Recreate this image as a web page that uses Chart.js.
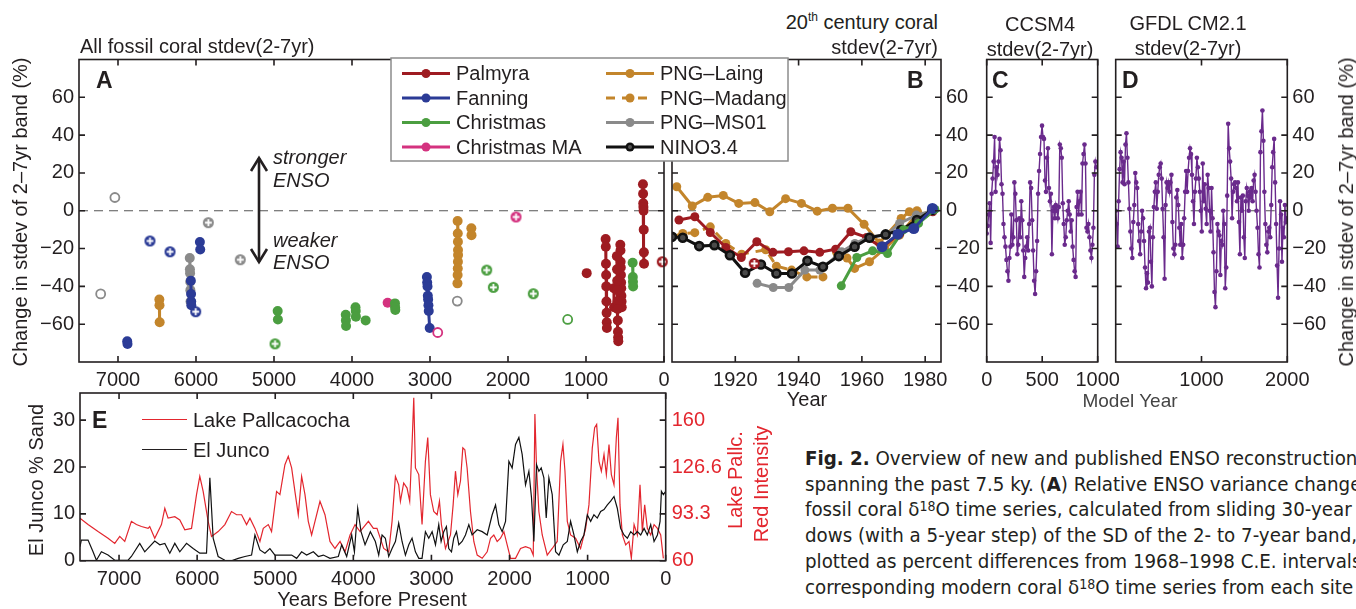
<!DOCTYPE html>
<html>
<head>
<meta charset="utf-8">
<script src="https://cdn.jsdelivr.net/npm/chart.js@4.4.1/dist/chart.umd.min.js"></script>
<style>
  html, body { margin:0; padding:0; background:#fff; }
  body { width:1356px; height:609px; position:relative; overflow:hidden;
         font-family:"Liberation Sans", Arial, Helvetica, sans-serif; color:#231f20; }
  canvas { position:absolute; }
  .t { position:absolute; white-space:nowrap; line-height:1; font-size:20px; z-index:5; }
  .c { transform:translate(-50%,-50%); }
  .r { transform:translate(-100%,-50%); }
  .l { transform:translate(0,-50%); }
  .v { transform:translate(-50%,-50%) rotate(-90deg); }
  .p { font-weight:bold; font-size:23px; }
  .it { font-style:italic; }
  sup { font-size:12px; position:relative; top:-1px; vertical-align:top; }
  .cap { position:absolute; left:805px; top:446px; z-index:5; white-space:nowrap;
         font-family:"Liberation Sans Narrow","DejaVu Sans Condensed",sans-serif;
         font-size:20.3px; line-height:25.7px; }
  .cap sup { font-size:14px; top:-3px; }
  .leg { position:absolute; height:0; border-top:1.5px solid; z-index:5; }
</style>
</head>
<body>

<canvas id="cB" width="390" height="350" style="left:600px;top:50px"></canvas>
<canvas id="cC" width="190" height="350" style="left:940px;top:50px"></canvas>
<canvas id="cD" width="256" height="350" style="left:1100px;top:50px"></canvas>
<canvas id="cE" width="800" height="229" style="left:0;top:380px"></canvas>
<canvas id="cA" width="800" height="350" style="left:0;top:50px"></canvas>

<!-- titles and axis labels -->
<div class="t l" style="left:80px;top:46px">All fossil coral stdev(2-7yr)</div>
<div class="t r" style="left:938px;top:22px">20<sup>th</sup> century coral</div>
<div class="t r" style="left:938px;top:47px">stdev(2-7yr)</div>
<div class="t c" style="left:1040px;top:24px">CCSM4</div>
<div class="t c" style="left:1040px;top:49px">stdev(2-7yr)</div>
<div class="t c" style="left:1188px;top:23px">GFDL CM2.1</div>
<div class="t c" style="left:1188px;top:48px">stdev(2-7yr)</div>
<div class="t v" style="left:20px;top:212px">Change in stdev of 2–7yr band (%)</div>
<div class="t v" style="left:1346px;top:212px">Change in stdev of 2–7yr band (%)</div>
<div class="t c" style="left:807px;top:399px">Year</div>
<div class="t c" style="left:1130px;top:400px;color:#444;font-size:19px">Model Year</div>

<div class="t p l" style="left:96px;top:80px">A</div>
<div class="t p l" style="left:907px;top:80px">B</div>
<div class="t p l" style="left:992px;top:80px">C</div>
<div class="t p l" style="left:1122px;top:80px">D</div>
<div class="t p l" style="left:92px;top:420px">E</div>

<!-- stronger / weaker arrow -->
<svg style="position:absolute;left:0;top:0;z-index:4" width="400" height="300">
  <g stroke="#231f20" stroke-width="2.6" fill="none">
    <line x1="259" y1="158" x2="259" y2="262"/>
    <polyline points="251,171 259,158 267,171"/>
    <polyline points="251,249 259,262 267,249"/>
  </g>
</svg>
<div class="t l it" style="left:273px;top:157px">stronger</div>
<div class="t l it" style="left:273px;top:180px">ENSO</div>
<div class="t l it" style="left:273px;top:240px">weaker</div>
<div class="t l it" style="left:273px;top:262px">ENSO</div>

<!-- panel E labels -->
<div class="leg" style="left:142px;top:419px;width:45px;border-color:#e3262e"></div>
<div class="t l" style="left:193px;top:420px">Lake Pallcacocha</div>
<div class="leg" style="left:142px;top:449px;width:45px;border-color:#231f20"></div>
<div class="t l" style="left:193px;top:450px">El Junco</div>
<div class="t v" style="left:36px;top:480px">El Junco % Sand</div>
<div class="t v" style="left:735px;top:480px;color:#e3262e">Lake Pallc.</div>
<div class="t v" style="left:761px;top:484px;color:#e3262e">Red Intensity</div>
<div class="t c" style="left:372px;top:599px">Years Before Present</div>

<div class="cap">
  <div><b>Fig. 2.</b> Overview of new and published ENSO reconstructions</div>
  <div>spanning the past 7.5 ky. (<b>A</b>) Relative ENSO variance changes in</div>
  <div>fossil coral δ<sup>18</sup>O time series, calculated from sliding 30-year win-</div>
  <div>dows (with a 5-year step) of the SD of the 2- to 7-year band,</div>
  <div>plotted as percent differences from 1968–1998 C.E. intervals of</div>
  <div>corresponding modern coral δ<sup>18</sup>O time series from each site</div>
</div>

<script>
// ---------- colours ----------
const cPalmyra = '#9e1b21';
const cFanning = '#2b3b96';
const cChristmas = '#4b9e40';
const cChristmasMA = '#d4327f';
const cLaing = '#c3852b';
const cMS01 = '#8a8a8a';
const cNino = '#111111';
const cModel = '#6a2a8c';
const cLake = '#e3262e';

// ---------- panel A: fossil corals, [years BP, % change], one sub-array per record ----------
const palmyraA = [
  [[991,-33]],
  [[748,-15],[746,-19],[744,-28],[742,-34],[740,-40],[738,-48],[736,-54],[734,-59],[732,-62]],
  [[604,-24],[602,-31],[600,-37],[598,-42],[596,-48],[594,-52],[592,-58],[590,-64],[588,-67],[586,-69]],
  [[560,-18],[558,-21],[556,-27],[554,-30],[552,-34],[550,-38],[548,-41],[546,-45],[544,-48],[542,-51]],
  [[642,-41],[640,-51]],
  [[270,14],[268,9],[266,4],[264,2],[262,0],[260,-10],[258,-22],[256,-28]]
];
const palmyraCross = [[22,-27]];

const fanningA = [
  [[6882,-69],[6878,-70.5]],
  [[6066,-37],[6063,-44],[6061,-48],[6060,-50]],
  [[5950,-16.5],[5946,-20.5]],
  [[3040,-35],[3036,-38],[3032,-40],[3028,-45],[3024,-47],[3020,-50],[3016,-53],[3004,-62]]
];
const fanningCross = [[6590,-16],[6333,-21.7],[6004,-53.4]];

const christmasA = [
  [[4953,-53],[4950,-57.5]],
  [[4080,-55],[4078,-58],[4076,-61]],
  [[3955,-51],[3952,-53],[3950,-56]],
  [[3825,-58]],
  [[3449,-49],[3447,-51],[3445,-52.5]],
  [[402,-27.5],[400,-35],[398,-37.6],[396,-40]]
];
const christmasCross = [[4987,-70.4],[2273,-31.4],[2188,-40.5],[1676,-43.9]];
const christmasOpen = [[1235,-57.5]];

const christmasMAA = [[[3543,-48.7]]];
const christmasMAOpen = [[2901,-64.4]];
const christmasMACross = [[1897,-3.3]];

const laingA = [
  [[6470,-47],[6468,-50],[6466,-59]],
  [[2646,-5.4],[2644,-12],[2642,-16.4],[2641,-20.8],[2640,-23.4],[2642,-27],[2644,-30.5],[2646,-34],[2648,-38.4]],
  [[2470,-9.3],[2468,-12.9]]
];

const ms01A = [
  [[6080,-25],[6078,-31],[6076,-33],[6074,-37.6],[6072,-42],[6070,-48]]
];
const ms01Open = [[7040,7],[7222,-44],[2650,-47.8]];
const ms01Cross = [[5842,-6.3],[5432,-25.9]];

// legend
const siteNames = ['Palmyra','Fanning','Christmas','Christmas MA','PNG\u2013Laing','PNG\u2013Madang','PNG\u2013MS01','NINO3.4'];
const siteColors = [cPalmyra, cFanning, cChristmas, cChristmasMA, cLaing, cLaing, cMS01, cNino];

// ---------- panel B: 20th century, [year CE, % change] ----------
const laingB = [[1901.5,12.7],[1906.4,2.5],[1911.3,7.1],[1916.2,8.1],[1921.1,3.9],[1926.2,4.3],[1930.9,-0.5],[1935.9,6.4],[1940.9,3.9],[1945.9,-0.2],[1950.7,1.3],[1955.6,1.3],[1960.7,-7.2],[1965.5,-17],[1972.4,-4.1],[1975,-0.5],[1977.4,0]];
const laingB2 = [[1952,-22],[1955.3,-25],[1957.7,-30.5],[1962.4,-27],[1967.2,-20],[1971.9,-12.9],[1977.7,-1]];
const madangB = [[1900,-13.8],[1903.4,-12],[1907.2,-11.6],[1912.1,-8.5],[1917,-17.3],[1922,-23],[1929.6,-20.6],[1933,-29.3],[1937.8,-31.4],[1942.6,-35],[1947.7,-35]];
const palmyraB = [[1902.2,-4.9],[1907.2,-3.2],[1912.1,-11.5],[1917,-19.4],[1921.9,-24.7],[1926.8,-16.4],[1931.9,-22],[1936.8,-21.7],[1941.7,-21.2],[1946.7,-22],[1951.7,-20.3],[1956.5,-11.1],[1961.5,-14.1],[1966.3,-19.4],[1972,-12],[1977,-7],[1982.4,-0.5]];
const palmyraBCross = [[1926,-27.9]];
const ms01B = [[1926.9,-38.4],[1932,-40.6],[1936.9,-40.6],[1942,-31.4],[1946.7,-31.4],[1953.6,-21.7],[1957.8,-17.3],[1962.4,-13.8],[1967.7,-12.9],[1971.9,-6.7],[1977.2,-2.3],[1982.4,0]];
const ninoB = [[1900,-13.8],[1903.4,-14.3],[1908.6,-18.7],[1913.4,-18.2],[1918.3,-23.5],[1923.1,-32.8],[1928.1,-28.4],[1933,-33.2],[1937.9,-33.2],[1942.8,-26.5],[1947.7,-29.6],[1952.7,-24],[1957.7,-19],[1962.4,-14.3],[1967.5,-12.5],[1972.4,-10.2],[1977.4,-4.9],[1982.2,0.4]];
const christmasB = [[1953.5,-39.7],[1958.4,-24.7],[1963.4,-21.2],[1968.1,-22.6],[1973.2,-10],[1977.9,-6.7],[1983.1,0.7]];
const fanningB = [[1966.4,-19],[1971.4,-12.4],[1976.4,-9.4],[1982.3,1.2]];

// ---------- panels C, D: model stdev, % change ----------
const ccsmStep = 8.9;   // model years between points
const ccsmVals = [-12,-8,-2,4,-17,9,17,26,39,10,23,19,26,38,32,14,9,-7,-14,-19,-26,-32,-37,-25,-19,-2,-18,-14,15,9,-5,-23,-18,-4,-14,5,-5,-21,-35,-25,-19,-14,-21,-7,15,12,-5,-21,-37,-44,-32,-16,9,21,30,39,45,39,38,16,10,28,33,12,5,9,-23,0,2,-4,3,0,-4,2,35,33,28,4,-7,-18,-14,-5,0,5,-2,-11,-5,-19,-26,-32,-35,2,10,-2,5,10,-2,25,30,35,25,-9,-11,-7,-14,-21,-25,-18,-9,19,26,23];
const gfdlStep = 11.4;
const gfdlVals = [0,-7,-19,5,22,31,28,15,26,14,35,41,28,15,1,-11,-20,-25,-6,3,20,15,12,-7,-16,-23,-11,0,-4,-16,-30,-41,-33,-38,-11,-9,-27,-40,-14,2,10,15,1,10,19,23,25,17,1,-14,-36,3,15,12,15,10,15,19,-6,-20,-23,-18,7,11,3,-9,-18,-7,-25,-18,-4,10,21,10,21,28,33,30,19,5,-7,10,17,28,23,17,10,0,-11,25,5,14,1,-7,19,12,0,-11,12,-4,-22,-43,-51,-32,-7,-11,-13,-34,-16,-18,0,-7,-41,-30,8,46,33,26,17,-4,10,14,15,12,5,15,-6,-23,7,0,8,-14,-25,5,12,8,0,10,7,12,5,16,19,10,0,-9,-23,-30,31,42,53,37,10,-7,-18,-22,-11,-9,-14,3,23,31,38,15,-7,-29,-46,-20,5,-2,-27,-9,-14,3,-6,-4];

// ---------- panel E ----------
const lakeYears = [7500,7397,7269,7141,7055,6991,6927,6842,6778,6713,6628,6607,6543,6457,6414,6372,6286,6222,6158,6072,6008,5966,5923,5859,5816,5731,5645,5560,5495,5431,5367,5324,5260,5196,5153,5089,5047,4983,4940,4876,4833,4790,4748,4705,4662,4619,4577,4534,4491,4427,4363,4299,4235,4170,4106,4042,3978,3914,3807,3743,
  3697,3611,3547,3504,3461,3419,3397,3355,3312,3278,3248,3226,3205,3162,3120,3077,3047,3013,2970,2927,2897,2872,2820,2756,2722,2692,2662,2628,2598,2572,2543,2500,2457,2414,2350,2286,2243,2201,2158,2115,2072,2030,1987,1923,1859,1795,1731,1696,1675,1654,1624,1581,1517,1453,1389,1346,1316,1290,1260,1218,1154,1090,1025,983,940,910,884,854,824,790,760,726,696,662,632,611,585,555,512,470,440,405,363,329,299,269,235,192,149,106,64,30];
const lakeRed = [90.3,85.7,80.7,76,72.3,77.3,73.7,88,85.7,84.3,83,84.3,76,85.7,97.3,90.3,91.3,89,82,83,107,120,109.3,88,77.3,80.7,85.7,95,92.7,92.7,85.7,90.3,83,73.7,83,85.7,80.7,109.3,107,128.3,134.3,126,109.3,92.7,120,107,88,78.3,88,102.3,92.7,73.7,68.7,73.7,66.3,78.3,85.7,80.7,88,83,
  83,68.7,66.3,88,120,114,102.3,115.3,111.7,102.3,142.7,176,126,121.3,85.7,130.7,147.7,107,95,92.7,102.3,85.7,68.7,78.3,99.7,123.7,107,116.7,140.3,139,126,95,73.7,64,61.7,66.3,76,78.3,73.7,76,80.7,71.3,61.7,61.7,68.7,70,68.7,64,164.3,126,95,78.3,64,68.7,73.7,130.7,142.7,123.7,88,78.3,76,68.7,83,99.7,140.3,154.7,157,130.7,123.7,135.7,121.3,142.7,121.3,114,147.7,161.7,99.7,78.3,71.3,73.7,61.7,85.7,78.3,114,80.7,99.7,83,78.3,85.7,83,78.3,61.7];

const juncoYears = [7500,7483,7397,7333,7290,7226,7141,7055,6884,6842,6735,6671,6543,6478,6414,6350,6286,6222,6136,6051,5966,5880,5837,5795,5731,5645,5560,5474,5388,5303,5260,5196,5132,5068,5004,4918,4790,4726,4662,4598,4512,4448,4384,4299,4192,4149,4085,4021,3986,3944,3901,3850,
  3782,3718,3675,3632,3590,3547,3504,3461,3419,3376,3333,3290,3248,3205,3162,3120,3077,3034,2991,2948,2906,2876,2842,2808,2778,2743,2714,2679,2649,2607,2564,2521,2479,2414,2350,2286,2222,2179,2137,2094,2051,2008,1966,1923,1880,1838,1795,1752,1718,1688,1654,1624,1594,1560,1530,1496,1453,1410,1367,1312,1260,1218,1175,1132,1090,1047,1004,961,919,876,833,790,747,705,662,620,577,534,491,448,405,363,320,277,235,192,149,106,72,55,30,0];
const juncoSand = [3,4.4,4.4,1.9,0.1,1.9,1.2,0.1,0.1,0.9,3.7,1.9,4.2,3.4,3.7,1.6,3.7,1.9,3.7,2.6,1.6,1.6,17.7,4.8,0.9,0.1,0,0.5,0.9,1.2,5.5,2.3,1.6,2.6,1.2,1.2,1.2,0.5,1.9,1.2,1.9,0.9,1.2,0.5,0.9,3.4,0.9,5.5,1.9,11.2,6.2,3.4,
  6.2,4.1,1.2,5.5,4.8,0.9,2.6,4.1,8,4.1,1.2,3.4,4.8,1.9,0.5,0.5,6.2,4.8,6.2,3.4,7.7,4.1,6.2,7.3,2.6,1.9,4.8,6.2,3.4,4.1,5.5,7.7,5.5,6.6,6.2,5.5,9.8,11.9,7.7,6.2,8.4,21.2,19.8,24.8,26.3,22.7,16.2,19.1,13.4,4.1,20.5,19.1,19.8,17.7,9.1,17.7,14.1,1.9,1.2,3.4,4.1,8.4,5.5,1.9,4.1,5.5,9.8,8.4,9.8,9.1,10.5,10.9,11.9,12.7,13.7,11.2,6.9,5.5,4.8,6.2,5.5,6.2,5.5,6.9,5.5,7.7,4.1,5.5,8.4,14.8,14.1,14.8];

// ---------- tick values ----------
const pctTicks = [-60,-40,-20,0,20,40,60];
const bpTicks = [0,1000,2000,3000,4000,5000,6000,7000];
const ceTicks = [1920,1940,1960,1980];
const ccsmTicks = [0,500,1000];
const gfdlTicks = [1000,2000];
const sandTicks = [0,10,20,30];
const redTicks = [60,93.3,126.6,160];

// ---------- helpers ----------
const ink = '#231f20';
Chart.defaults.font.family = '"Liberation Sans", Arial, sans-serif';
Chart.defaults.font.size = 20;
Chart.defaults.color = ink;

const minus = v => String(v).replace('-', '\u2212');
const plain = v => String(v);
const xy = arr => arr.map(p => ({ x: p[0], y: p[1] }));

function crossMarker(color, r) {
  const c = document.createElement('canvas');
  const s = Math.ceil(2 * r + 4);
  c.width = c.height = s;
  const g = c.getContext('2d');
  const m = s / 2;
  g.fillStyle = color;
  g.beginPath(); g.arc(m, m, r, 0, Math.PI * 2); g.fill();
  g.strokeStyle = '#fff'; g.lineWidth = 1.8;
  g.beginPath();
  g.moveTo(m - r * 0.62, m); g.lineTo(m + r * 0.62, m);
  g.moveTo(m, m - r * 0.62); g.lineTo(m, m + r * 0.62);
  g.stroke();
  return c;
}

function segSets(segs, color) {
  return segs.map(seg => ({
    data: xy(seg), borderColor: color, backgroundColor: color, borderWidth: 3,
    pointRadius: 5, pointBorderWidth: 0, pointBackgroundColor: color
  }));
}
function crossSet(pts, color) {
  return { data: xy(pts), showLine: false, pointStyle: crossMarker(color, 5.5), clip: false };
}
function openSet(pts, color) {
  return { data: xy(pts), showLine: false, pointRadius: 4.5, pointBorderWidth: 1.8,
           pointBorderColor: color, pointBackgroundColor: '#fff', clip: false };
}
function lineB(pts, color, extra) {
  return Object.assign({ data: xy(pts), borderColor: color, backgroundColor: color, borderWidth: 3,
    pointRadius: 4.5, pointBorderWidth: 0, pointBackgroundColor: color }, extra || {});
}

const fixTicks = vals => s => { s.ticks = vals.map(v => ({ value: v })); };
const noPad = (w, h) => s => {
  if (w !== undefined) s.width = w;
  if (h !== undefined) s.height = h;
  s.paddingLeft = s.paddingRight = s.paddingTop = s.paddingBottom = 0;
};

// box, inner ticks and dashed zero line
const framePlugin = {
  id: 'frame',
  beforeDatasetsDraw(chart, args, o) {
    if (!o.zero) return;
    const { ctx, chartArea: a } = chart;
    const y = chart.scales[o.left || 'y'].getPixelForValue(0);
    ctx.save();
    ctx.strokeStyle = '#555'; ctx.lineWidth = 1.2; ctx.setLineDash([9, 6]);
    ctx.beginPath(); ctx.moveTo(a.left, y); ctx.lineTo(a.right, y); ctx.stroke();
    ctx.restore();
  },
  afterDatasetsDraw(chart, args, o) {
    const { ctx, chartArea: a } = chart;
    const L = 6;
    const xs = chart.scales.x;
    const ls = chart.scales[o.left || 'y'];
    const rs = chart.scales[o.right || o.left || 'y'];
    ctx.save();
    ctx.strokeStyle = ink; ctx.lineWidth = 1.6;
    ctx.strokeRect(a.left, a.top, a.right - a.left, a.bottom - a.top);
    ctx.beginPath();
    xs.ticks.forEach(t => {
      const px = xs.getPixelForValue(t.value);
      ctx.moveTo(px, a.bottom); ctx.lineTo(px, a.bottom - L);
      ctx.moveTo(px, a.top); ctx.lineTo(px, a.top + L);
    });
    ls.ticks.forEach(t => {
      const py = ls.getPixelForValue(t.value);
      ctx.moveTo(a.left, py); ctx.lineTo(a.left + L, py);
    });
    rs.ticks.forEach(t => {
      const py = rs.getPixelForValue(t.value);
      ctx.moveTo(a.right, py); ctx.lineTo(a.right - L, py);
    });
    ctx.stroke();
    ctx.restore();
  }
};

// two-column legend of panel A
const siteLegend = {
  id: 'siteLegend',
  afterDraw(chart, args, o) {
    if (!o.show) return;
    const ctx = chart.ctx;
    ctx.save();
    ctx.fillStyle = '#fff'; ctx.strokeStyle = '#8c8c8c'; ctx.lineWidth = 1.5;
    ctx.fillRect(391, 8, 397, 103);
    ctx.strokeRect(391, 8, 397, 103);
    ctx.font = '20px "Liberation Sans", Arial, sans-serif';
    ctx.textBaseline = 'middle';
    siteNames.forEach((name, i) => {
      const col = i < 4 ? 0 : 1, row = i % 4;
      const x0 = col ? 606 : 402, y = 23.5 + row * 24.5;
      const color = siteColors[i];
      ctx.strokeStyle = color; ctx.lineWidth = 3;
      ctx.setLineDash(name === 'PNG\u2013Madang' ? [9, 7] : []);
      ctx.beginPath(); ctx.moveTo(x0, y); ctx.lineTo(x0 + 48, y); ctx.stroke();
      ctx.setLineDash([]);
      ctx.fillStyle = color;
      ctx.beginPath(); ctx.arc(x0 + 24, y, 4.5, 0, Math.PI * 2); ctx.fill();
      if (name === 'NINO3.4') {
        ctx.fillStyle = '#555';
        ctx.beginPath(); ctx.arc(x0 + 24, y, 2, 0, Math.PI * 2); ctx.fill();
      }
      ctx.fillStyle = ink;
      ctx.fillText(name, x0 + 54, y + 1);
    });
    ctx.restore();
  }
};
Chart.register(framePlugin, siteLegend);

const tickFont = { size: 20 };
const hidden = { display: false, drawTicks: false };

// ---------- panel A ----------
const setsA = [].concat(
  crossSet(palmyraCross, cPalmyra), crossSet(fanningCross, cFanning), crossSet(christmasCross, cChristmas),
  crossSet(christmasMACross, cChristmasMA), crossSet(ms01Cross, cMS01),
  openSet(christmasOpen, cChristmas), openSet(christmasMAOpen, cChristmasMA), openSet(ms01Open, cMS01),
  segSets(fanningA, cFanning), segSets(palmyraA, cPalmyra), segSets(christmasA, cChristmas),
  segSets(christmasMAA, cChristmasMA), segSets(laingA, cLaing), segSets(ms01A, cMS01)
);
new Chart(document.getElementById('cA'), {
  type: 'line',
  data: { datasets: setsA },
  options: {
    animation: false, responsive: false, devicePixelRatio: 1, events: [],
    layout: { padding: { top: 9.5, right: 136, left: 0, bottom: 0 } },
    plugins: { legend: { display: false }, tooltip: { enabled: false },
               frame: { zero: true }, siteLegend: { show: true } },
    scales: {
      x: { type: 'linear', reverse: true, min: 0, max: 7500,
           afterBuildTicks: fixTicks(bpTicks), afterFit: noPad(undefined, 38),
           grid: hidden, border: { display: false },
           ticks: { padding: 6, font: tickFont, maxRotation: 0, autoSkip: false, callback: plain } },
      y: { min: -80, max: 80, afterBuildTicks: fixTicks(pctTicks), afterFit: noPad(79),
           grid: hidden, border: { display: false },
           ticks: { padding: 5, font: tickFont, callback: minus } }
    }
  }
});

// ---------- panel B ----------
const setsB = [
  lineB(fanningB, cFanning, { pointRadius: 5.5 }),
  lineB(christmasB, cChristmas),
  crossSet(palmyraBCross, cPalmyra),
  lineB(ninoB, cNino, { pointRadius: 4, pointBackgroundColor: '#4a4a4a', pointBorderColor: cNino, pointBorderWidth: 2.6 }),
  lineB(ms01B, cMS01),
  lineB(palmyraB, cPalmyra),
  lineB(madangB, cLaing, { borderDash: [9, 7] }),
  lineB(laingB2, cLaing),
  lineB(laingB, cLaing)
];
new Chart(document.getElementById('cB'), {
  type: 'line',
  data: { datasets: setsB },
  options: {
    animation: false, responsive: false, devicePixelRatio: 1, events: [],
    layout: { padding: { top: 9.5, left: 72, right: 0, bottom: 0 } },
    plugins: { legend: { display: false }, tooltip: { enabled: false }, frame: { zero: true } },
    scales: {
      x: { type: 'linear', min: 1900, max: 1985, afterBuildTicks: fixTicks(ceTicks),
           afterFit: noPad(undefined, 38), grid: hidden, border: { display: false },
           ticks: { padding: 6, font: tickFont, maxRotation: 0, autoSkip: false, callback: plain } },
      y: { position: 'right', min: -80, max: 80, afterBuildTicks: fixTicks(pctTicks),
           afterFit: noPad(49), grid: hidden, border: { display: false },
           ticks: { padding: 5, font: tickFont, callback: minus } }
    }
  }
});

// ---------- panels C and D ----------
function modelChart(id, vals, step, xmax, xticks, padL, padR, yRight) {
  return new Chart(document.getElementById(id), {
    type: 'line',
    data: { datasets: [{
      data: vals.map((v, i) => ({ x: i * step, y: v })),
      borderColor: cModel, backgroundColor: cModel, borderWidth: 1.4,
      pointRadius: 2.3, pointBorderWidth: 0, pointBackgroundColor: cModel
    }] },
    options: {
      animation: false, responsive: false, devicePixelRatio: 1, events: [],
      layout: { padding: { top: 9.5, left: padL, right: padR, bottom: 0 } },
      plugins: { legend: { display: false }, tooltip: { enabled: false }, frame: { zero: true } },
      scales: {
        x: { type: 'linear', min: 0, max: xmax, afterBuildTicks: fixTicks(xticks),
             afterFit: noPad(undefined, 38), grid: hidden, border: { display: false },
             ticks: { padding: 6, font: tickFont, maxRotation: 0, autoSkip: false, callback: plain } },
        y: { position: yRight ? 'right' : 'left', min: -80, max: 80,
             afterBuildTicks: fixTicks(pctTicks), afterFit: noPad(yRight ? 68.7 : 0),
             grid: hidden, border: { display: false },
             ticks: { display: yRight, padding: 5, font: tickFont, callback: minus } }
      }
    }
  });
}
modelChart('cC', ccsmVals, ccsmStep, 1000, ccsmTicks, 46.7, 32.3, false);
modelChart('cD', gfdlVals, gfdlStep, 2000, gfdlTicks, 15.7, 0, true);

// ---------- panel E ----------
new Chart(document.getElementById('cE'), {
  type: 'line',
  data: { datasets: [
    { data: juncoYears.map((y, i) => ({ x: y, y: juncoSand[i] })), yAxisID: 'y',
      borderColor: '#111', borderWidth: 1.2, pointRadius: 0 },
    { data: lakeYears.map((y, i) => ({ x: y, y: lakeRed[i] })), yAxisID: 'y2',
      borderColor: cLake, borderWidth: 1.2, pointRadius: 0 }
  ] },
  options: {
    animation: false, responsive: false, devicePixelRatio: 1, events: [],
    layout: { padding: { top: 13, left: 0, right: 0, bottom: 0 } },
    plugins: { legend: { display: false }, tooltip: { enabled: false },
               frame: { zero: false, left: 'y', right: 'y2' } },
    scales: {
      x: { type: 'linear', reverse: true, min: 0, max: 7500, afterBuildTicks: fixTicks(bpTicks),
           afterFit: noPad(undefined, 48.3), grid: hidden, border: { display: false },
           ticks: { padding: 7, font: tickFont, maxRotation: 0, autoSkip: false, callback: plain } },
      y: { position: 'left', min: 0, max: 35.8, afterBuildTicks: fixTicks(sandTicks),
           afterFit: noPad(80), grid: hidden, border: { display: false },
           ticks: { padding: 5, font: tickFont } },
      y2: { position: 'right', min: 60, max: 179.33, afterBuildTicks: fixTicks(redTicks),
            afterFit: noPad(134.3), grid: hidden, border: { display: false },
            ticks: { padding: 6, font: tickFont, color: cLake, callback: plain } }
    }
  }
});
</script>
</body>
</html>
